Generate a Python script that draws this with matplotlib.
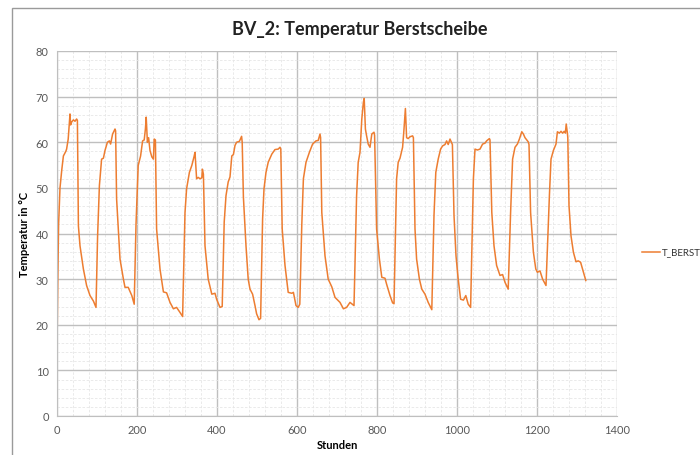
import matplotlib
matplotlib.use("Agg")
import matplotlib.pyplot as plt
from matplotlib.ticker import MultipleLocator
from matplotlib.patches import Rectangle
from matplotlib.lines import Line2D

plt.rcParams['font.family'] = ['Lato', 'DejaVu Sans']

title = "BV_2: Temperatur Berstscheibe"
xlabel = "Stunden"
ylabel = "Temperatur in °C"
series_name = "T_BERST"

# hours / temperature read per heating cycle
c01_h = [0.5, 2, 4, 7.5, 12, 16, 22, 24, 28, 32.5, 34, 37, 41, 45, 49, 51, 53.5, 57.5, 66, 74, 82.5, 91, 97.5]
c01_t = [18.7, 30, 42, 50, 54, 57, 58, 58.5, 60.7, 66.2, 63.8, 64.5, 64.9, 64.6, 65.1, 64.8, 41.7, 37.3, 32.2, 28.6, 26.4, 25.2, 23.8]
c02_h = [101.5, 106, 111.5, 116, 120, 126, 131, 134, 139, 145, 146.5, 149, 157.5, 166, 170, 178, 187, 193]
c02_t = [39.5, 50.5, 56.3, 56.5, 58.2, 60, 60.3, 59.6, 61.8, 62.9, 62.5, 47.6, 34.4, 30, 28.2, 28.2, 26.4, 24.5]
c03_h = [197.5, 203, 209, 214, 218, 221, 223, 226, 229, 232.5, 237, 241, 243, 246, 249, 257.5, 266, 274, 282.5, 291, 299, 307.5, 314]
c03_t = [42, 54.9, 57, 60.3, 60.5, 62.9, 65.5, 60, 61, 58.2, 56.8, 56.3, 60.7, 60.5, 41, 32.2, 27.2, 27.0, 24.9, 23.5, 23.8, 22.7, 21.8]
c04_h = [320, 324, 331, 337, 342.5, 345, 349, 353, 357.5, 362, 363.5, 366, 370, 378, 387, 395, 399, 407.5, 413]
c04_t = [44.6, 49.8, 53.4, 54.9, 56.8, 57.8, 52, 52.3, 52, 52.2, 54.1, 53, 37.3, 30, 26.7, 26.9, 25.6, 23.8, 24.0]
c05_h = [418, 422.5, 428, 432.5, 437, 441, 445, 449, 456, 461.5, 463, 466, 472.5, 478, 482.5, 489, 495, 499, 505, 509]
c05_t = [42.5, 48.3, 51.3, 52.4, 57, 57.3, 59.3, 60, 60.2, 61.3, 60, 48, 37.3, 30, 27.8, 26.7, 24.2, 22.4, 21.1, 21.4]
c06_h = [514, 517.5, 522.5, 528, 537, 545, 553, 557.5, 559.5, 563, 570, 578, 587, 591, 597.5, 603, 607]
c06_t = [43.2, 49.8, 53.4, 55.6, 57.4, 58.4, 58.5, 58.9, 58.5, 41, 33, 27.1, 26.9, 27.1, 24.2, 23.8, 24.5]
c07_h = [612, 616, 622.5, 631, 639, 647.5, 653, 657.5, 659, 662, 670, 678, 687, 695, 707.5, 716, 724, 732.5, 742.5]
c07_t = [42, 52, 55.6, 57.8, 59.6, 60.3, 60.4, 61.8, 61.0, 44.6, 35.1, 30, 28.3, 26, 24.9, 23.5, 23.8, 24.9, 24.2]
c08_h = [749, 753, 757.5, 762, 766, 768, 771, 774, 778, 782.5, 787, 792.5, 794, 799, 806, 812, 820, 824, 832.5, 839, 842.5]
c08_t = [48.3, 55.6, 57.8, 65.1, 68.8, 69.6, 62.9, 61.4, 59.6, 58.9, 61.8, 62.2, 61.5, 41, 34.4, 30.4, 30.2, 28.9, 26.4, 24.8, 24.6]
c09_h = [849, 853, 857.5, 864, 867.5, 871, 874, 878, 882.5, 889, 891, 895, 899, 906, 912, 920, 928, 937]
c09_t = [52, 55.6, 56.5, 58.9, 62.9, 67.4, 61, 60.8, 61.2, 61.4, 61, 41, 34.4, 30, 27.8, 26.7, 24.9, 23.3]
c10_h = [942.5, 947, 953, 959, 964, 970, 974, 978, 982.5, 987, 988.5, 992.5, 997.5, 1003, 1009, 1016, 1022, 1028, 1034]
c10_t = [44, 53.4, 56.3, 58.5, 59.2, 59.5, 60.3, 59.5, 60.7, 59.8, 59.5, 44, 35.1, 30, 25.6, 25.4, 26.4, 24.5, 23.8]
c11_h = [1038, 1041, 1045, 1051, 1057.5, 1064, 1070, 1074, 1081, 1082.5, 1087, 1092.5, 1099, 1107.5, 1114, 1120, 1128]
c11_t = [40, 52, 58.5, 58.3, 58.5, 59.6, 59.8, 60.3, 60.8, 60.5, 44.6, 37.3, 33, 30.8, 31.0, 29.3, 27.8]
c12_h = [1134, 1139, 1145, 1151, 1156, 1162, 1166, 1170, 1176, 1178, 1180, 1184, 1191, 1197, 1201, 1207.5, 1214, 1222.5]
c12_t = [44.6, 56.3, 58.9, 59.6, 60.7, 62.3, 61.8, 61, 60.3, 60.1, 59.5, 44.6, 35.9, 32.2, 31.5, 31.8, 30, 28.6]
c13_h = [1231, 1235, 1241, 1247.5, 1251, 1256, 1260, 1264, 1268, 1271, 1273, 1276, 1277, 1280, 1285, 1291, 1297.5, 1303, 1309, 1316, 1322]
c13_t = [48.3, 56.3, 58.2, 59.6, 62.3, 62.0, 62.4, 62.0, 62.4, 62.0, 64, 62.0, 61, 46.1, 39.5, 35.9, 33.8, 34.0, 33.7, 31.5, 29.7]

cycles_h = [c01_h, c02_h, c03_h, c04_h, c05_h, c06_h, c07_h, c08_h, c09_h, c10_h, c11_h, c12_h, c13_h]
cycles_t = [c01_t, c02_t, c03_t, c04_t, c05_t, c06_t, c07_t, c08_t, c09_t, c10_t, c11_t, c12_t, c13_t]
hours = [h for c in cycles_h for h in c]
temps = [t for c in cycles_t for t in c]

orange = '#ED7D31'

fig = plt.figure(figsize=(7.0, 4.56), dpi=100)
fig.patches.append(Rectangle((12/700, -0.2), 1.2, 1.2 - 9/456, transform=fig.transFigure,
                             fill=False, edgecolor='#9a9a9a', linewidth=1.0))
ax = fig.add_axes([57/700, 39/456, 560/700, 365/456])

ax.plot(hours, temps, color=orange, linewidth=1.1)

ax.set_xlim(0, 1400)
ax.set_ylim(0, 80)
ax.xaxis.set_major_locator(MultipleLocator(200))
ax.xaxis.set_minor_locator(MultipleLocator(40))
ax.yaxis.set_major_locator(MultipleLocator(10))
ax.yaxis.set_minor_locator(MultipleLocator(2))
ax.grid(which='major', color='#bfbfbf', linewidth=1.0, linestyle='-')
ax.grid(which='minor', color='#e6e6e6', linewidth=0.6, linestyle=(0, (3, 2)))
ax.set_axisbelow(True)
for s in ['top', 'right']:
    ax.spines[s].set_visible(False)
for s in ['left', 'bottom']:
    ax.spines[s].set_color('#bfbfbf')
ax.tick_params(which='both', length=0, colors='#595959', labelsize=8)
ax.tick_params(axis='x', pad=6)
ax.tick_params(axis='y', pad=6)

ax.set_xlabel(xlabel, fontsize=8, fontweight='bold', color='#000000', labelpad=3)
ax.set_ylabel(ylabel, fontsize=8, fontweight='bold', color='#000000', labelpad=4)

fig.text(360/700, 1 - 30/456, title, ha='center', va='center', fontsize=13, fontweight='bold', color='#222222')

fig.lines.append(Line2D([642/700, 660/700], [1 - 253/456, 1 - 253/456], transform=fig.transFigure,
                        color=orange, linewidth=1.1))
fig.text(662/700, 1 - 253/456, series_name, ha='left', va='center', fontsize=7, color='#333333')

fig.savefig('out.png', dpi=100)
